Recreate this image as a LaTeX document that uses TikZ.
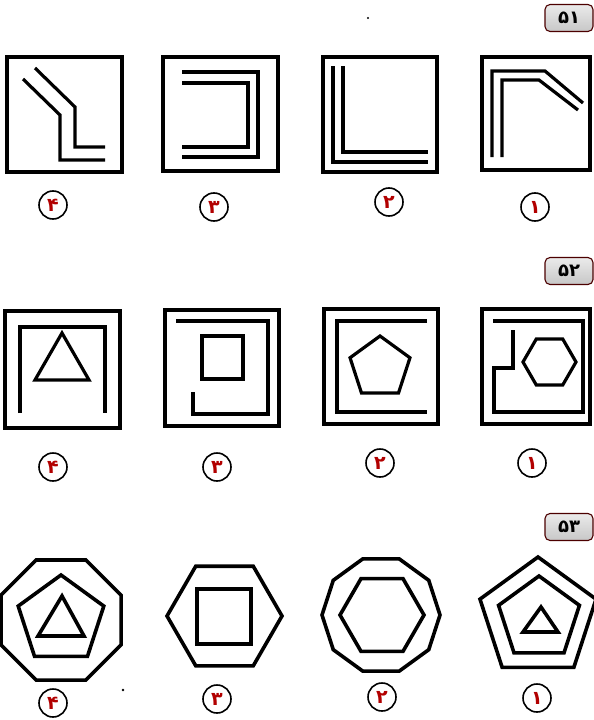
\documentclass[tikz,border=0pt]{standalone}
\usepackage{fontspec}
\newfontfamily\persian[Script=Arabic]{DejaVu Sans}
\tikzset{
  frame/.style={line width=4pt, line join=miter},
  inner/.style={line width=3.2pt, line join=miter},
  polyline/.style={line width=3.6pt, line join=miter},
  choice/.style={circle, draw, line width=1.6pt, minimum size=28pt, inner sep=0pt,
    text=red!70!black, font=\persian\bfseries\fontsize{19}{19}\selectfont},
  qlabel/.style={rounded corners=5pt, draw=black!70!red, line width=1.1pt,
    top color=black!8, bottom color=black!22, minimum width=48pt, minimum height=27pt,
    inner sep=0pt, font=\persian\bfseries\fontsize{18}{18}\selectfont}
}
\begin{document}
\begin{tikzpicture}[x=1pt,y=-1pt]
\useasboundingbox (0,0) rectangle (594,720);
\fill[white] (0,0) rectangle (594,720);
% question labels
\node[qlabel] (q51) at (569,18) {۵۱};
\node[qlabel] (q52) at (569,271) {۵۲};
\node[qlabel] (q53) at (569,527) {۵۳};
% stray dots
\fill (368,18) circle (1.2pt);
\fill (123,690) circle (1.4pt);

% ===== Row 1 =====
\draw[frame] (7,57) rectangle (122,172);
\draw[inner] (35,68) -- (75,107) -- (75,147) -- (105,147);
\draw[inner] (23,79) -- (60,115) -- (60,160) -- (105,160);

\draw[frame] (163,57) rectangle (278,171);
\draw[inner] (182,72) -- (258,72) -- (258,157) -- (182,157);
\draw[inner] (182,83) -- (248,83) -- (248,147) -- (182,147);

\draw[frame] (323,57) rectangle (437,172);
\draw[inner] (333,66) -- (333,162) -- (428,162);
\draw[inner] (343,66) -- (343,152) -- (428,152);

\draw[frame] (482,57) rectangle (590,170);
\draw[inner] (492,157) -- (492,71) -- (545,71) -- (583,103);
\draw[inner] (502,157) -- (502,80) -- (539,80) -- (578,110);

\node[choice] (r1c4) at (53,205) {۴};
\node[choice] (r1c3) at (214,207) {۳};
\node[choice] (r1c2) at (389,202) {۲};
\node[choice] (r1c1) at (535,207) {۱};

% ===== Row 2 =====
\draw[frame] (5,311) rectangle (120,428);
\draw[inner] (20,413) -- (20,327) -- (105,327) -- (105,413);
\draw[inner] (62,333) -- (89,380) -- (35,380) -- cycle;

\draw[frame] (165,310) rectangle (279,426);
\draw[inner] (176,321) -- (268,321) -- (268,414) -- (193,414) -- (193,392);
\draw[inner] (202,336) rectangle (243,379);

\draw[frame] (324,309) rectangle (438,424);
\draw[inner] (427,321) -- (337,321) -- (337,412) -- (427,412);
\draw[inner,shift={(380,367.5)}] (-90:31.5) -- (-18:31.5) -- (54:31.5) -- (126:31.5) -- (198:31.5) -- cycle;

\draw[frame] (482,309) rectangle (590,424);
\draw[inner] (493,321) -- (583,321) -- (583,412) -- (494,412) -- (494,368) -- (513,368) -- (513,330);
\draw[inner,shift={(549.5,362)}] (0:26.5) -- (60:26.5) -- (120:26.5) -- (180:26.5) -- (240:26.5) -- (300:26.5) -- cycle;

\node[choice] (r2c4) at (53,467) {۴};
\node[choice] (r2c3) at (217,467) {۳};
\node[choice] (r2c2) at (380,463) {۲};
\node[choice] (r2c1) at (532,463) {۱};

% ===== Row 3 =====
% option 4: octagon, pentagon, triangle
\draw[polyline,shift={(61,620)}] (22.5:65) -- (67.5:65) -- (112.5:65) -- (157.5:65) -- (202.5:65) -- (247.5:65) -- (292.5:65) -- (337.5:65) -- cycle;
\draw[polyline,shift={(61,620)}] (-90:45) -- (-18:45) -- (54:45) -- (126:45) -- (198:45) -- cycle;
\draw[polyline] (62,596) -- (84,636) -- (38,636) -- cycle;

% option 3: hexagon, square
\draw[polyline,shift={(224.5,616)}] (0:57.5) -- (60:57.5) -- (120:57.5) -- (180:57.5) -- (240:57.5) -- (300:57.5) -- cycle;
\draw[polyline] (197,589) rectangle (251,644);

% option 2: decagon, hexagon
\draw[polyline,shift={(381,615)}] (0:59) -- (36:59) -- (72:59) -- (108:59) -- (144:59) -- (180:59) -- (216:59) -- (252:59) -- (288:59) -- (324:59) -- cycle;
\draw[polyline,shift={(382,615)}] (0:42) -- (60:42) -- (120:42) -- (180:42) -- (240:42) -- (300:42) -- cycle;

% option 1: pentagon, pentagon, triangle
\draw[polyline,shift={(538,618)}] (-90:61) -- (-18:61) -- (54:61) -- (126:61) -- (198:61) -- cycle;
\draw[polyline,shift={(539,618.5)}] (-90:42.5) -- (-18:42.5) -- (54:42.5) -- (126:42.5) -- (198:42.5) -- cycle;
\draw[polyline] (541,607) -- (558,632) -- (523,632) -- cycle;

\node[choice] (r3c4) at (53,703) {۴};
\node[choice] (r3c3) at (217,699) {۳};
\node[choice] (r3c2) at (382,697) {۲};
\node[choice] (r3c1) at (537,698) {۱};
\end{tikzpicture}
\end{document}
